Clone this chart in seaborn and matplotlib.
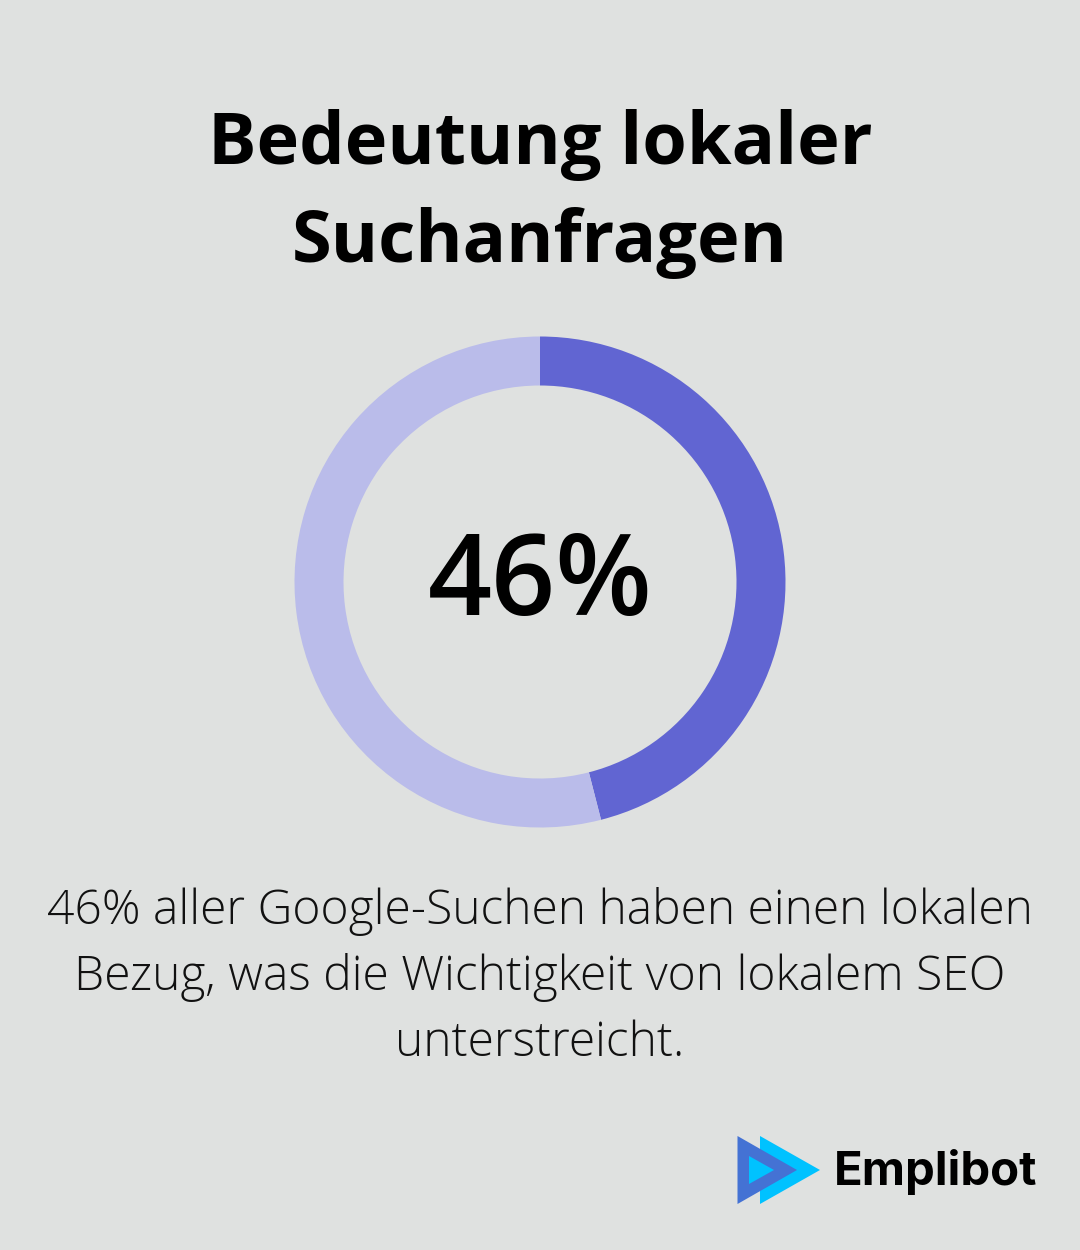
import matplotlib
matplotlib.use("Agg")
import matplotlib.pyplot as plt
import seaborn as sns
from matplotlib.patches import Polygon

sns.set_theme(style="white")
plt.rcParams['font.family'] = ['Open Sans', 'DejaVu Sans']

share = [46, 54]
colors = ["#6165d2", "#babcea"]
bg = "#dfe1e0"
title_lines = ["Bedeutung lokaler", "Suchanfragen"]
center = "46%"
body_lines = ["46% aller Google-Suchen haben einen lokalen",
              "Bezug, was die Wichtigkeit von lokalem SEO",
              "unterstreicht."]
brand = "Emplibot"

W, H = 1080, 1250
fig = plt.figure(figsize=(W/100, H/100), dpi=100, facecolor=bg)

def T(x, y, s, **k):
    k.setdefault("ha", "center")
    fig.text(x/W, 1-y/H, s, va="center", **k)

T(540, 145, title_lines[0], fontsize=51.9, fontweight="bold", color="black")
T(540, 243, title_lines[1], fontsize=51.9, fontweight="bold", color="black")

R = 245.5
ax = fig.add_axes([(540-R)/W, 1-(582+R)/H, 2*R/W, 2*R/H])
ax.pie(share, colors=colors, startangle=90, counterclock=False, radius=1,
       wedgeprops=dict(width=49/R, linewidth=0))
ax.set_xlim(-1, 1); ax.set_ylim(-1, 1); ax.set_aspect("equal"); ax.axis("off")

T(540, 586, center, fontsize=80.8, fontweight="semibold", color="black")

for y, s in zip([912, 978, 1044], body_lines):
    T(540, y, s, fontsize=34.6, fontweight="light", color="#111111")

over = fig.add_axes([0, 0, 1, 1]); over.set_xlim(0, W); over.set_ylim(H, 0); over.axis("off")
over.patch.set_alpha(0)
over.add_patch(Polygon([(760,1136),(820,1170),(760,1204)], closed=True, fc="#00c2ff", lw=0))
over.add_patch(Polygon([(737.5,1136),(797,1170),(737.5,1204)], closed=True, fc="#4472d4", lw=0))
over.add_patch(Polygon([(749,1156),(774,1170),(749,1184)], closed=True, fc="#00c2ff", lw=0))
T(834, 1172, brand, ha="left", fontsize=34, fontweight="bold", color="black", family=["Inter", "DejaVu Sans"])

fig.savefig("out.png", dpi=100, facecolor=bg)
